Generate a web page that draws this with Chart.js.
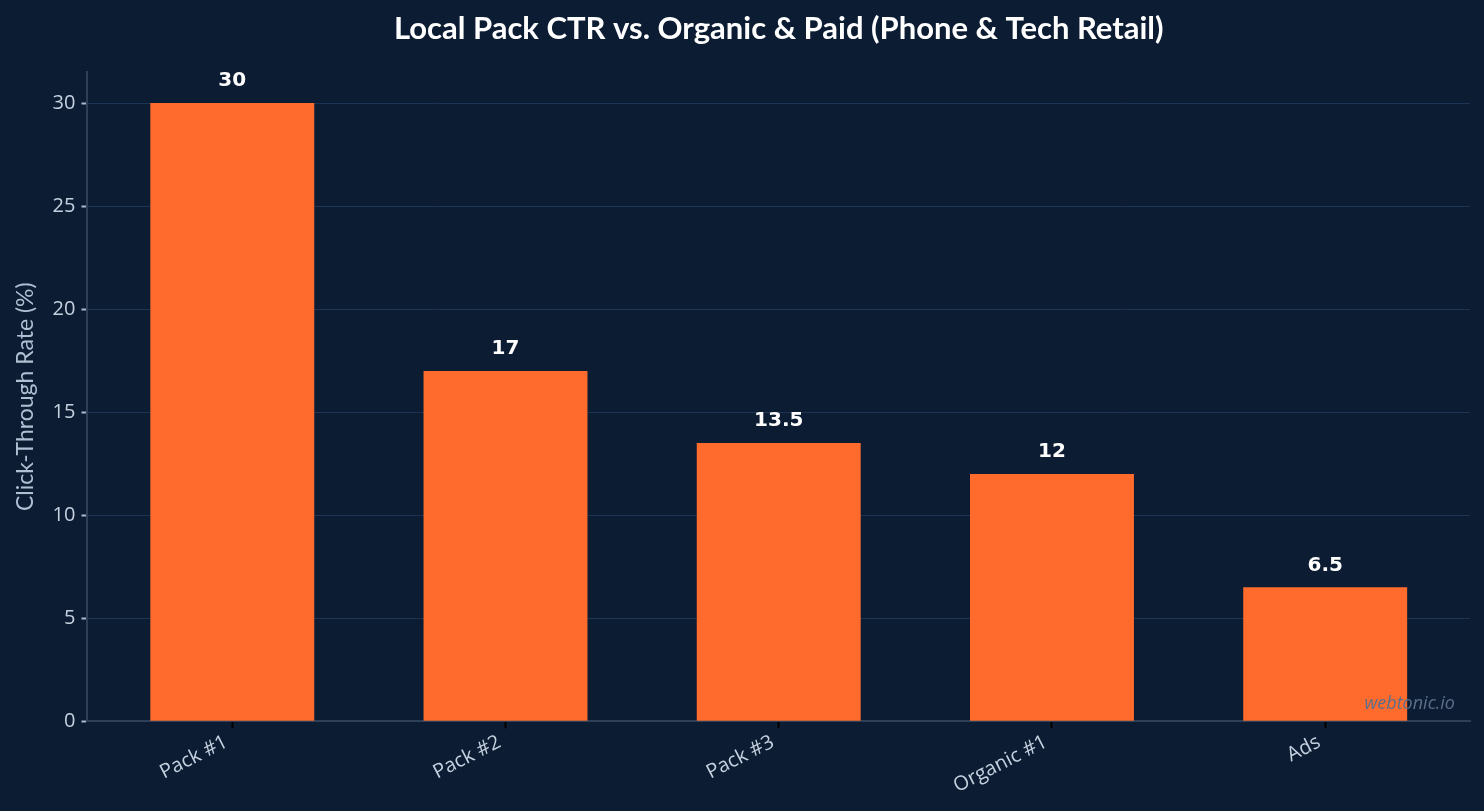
<!DOCTYPE html>
<html>
<head>
<meta charset="utf-8">
<script src="https://cdn.jsdelivr.net/npm/chart.js@4/dist/chart.umd.min.js"></script>
<style>
  html, body { margin: 0; padding: 0; background: #0c1c33; }
  #wrap { width: 1484px; height: 811px; position: relative; }
</style>
</head>
<body>
<div id="wrap"><canvas id="ctrChart"></canvas></div>
<script>
// data
const categories = ['Pack #1', 'Pack #2', 'Pack #3', 'Organic #1', 'Ads'];
const ctrValues = [30, 17, 13.5, 12, 6.5];
const yTicks = [0, 5, 10, 15, 20, 25, 30];

// value labels above each bar
const valueLabels = {
  id: 'valueLabels',
  afterDatasetsDraw(chart) {
    const ctx = chart.ctx;
    const meta = chart.getDatasetMeta(0);
    ctx.save();
    ctx.font = 'bold 20px "DejaVu Sans"';
    ctx.fillStyle = '#ffffff';
    ctx.textAlign = 'center';
    ctx.textBaseline = 'bottom';
    meta.data.forEach(function(bar, i) {
      ctx.fillText(String(ctrValues[i]), bar.x, bar.y - 12);
    });
    ctx.restore();
  }
};

// small watermark in the bottom-right corner of the plot
const watermark = {
  id: 'watermark',
  afterDraw(chart) {
    const ctx = chart.ctx;
    const area = chart.chartArea;
    ctx.save();
    ctx.font = 'italic 18px "Open Sans"';
    ctx.fillStyle = '#5b6f8a';
    ctx.textAlign = 'right';
    ctx.textBaseline = 'middle';
    ctx.fillText('webtonic.io', area.right - 15, area.bottom - 17);
    ctx.restore();
  }
};

let points = [];
for (let i = 0; i < categories.length; i++) {
  points.push({ x: i, y: ctrValues[i] });
}

new Chart(document.getElementById('ctrChart'), {
  type: 'bar',
  data: {
    datasets: [{
      label: 'CTR',
      data: points,
      backgroundColor: '#ff6b2d',
      borderWidth: 0,
      barPercentage: 0.6,
      categoryPercentage: 1.0
    }]
  },
  options: {
    responsive: true,
    maintainAspectRatio: false,
    animation: false,
    layout: { padding: { top: 6, right: 14, left: 8, bottom: 11 } },
    plugins: {
      legend: { display: false },
      tooltip: { enabled: false },
      title: {
        display: true,
        fullSize: false,
        text: 'Local Pack CTR vs. Organic & Paid (Phone & Tech Retail)',
        color: '#ffffff',
        font: { family: 'Lato', size: 31, weight: 'bold' },
        padding: { top: 4, bottom: 25 }
      }
    },
    scales: {
      x: {
        type: 'linear',
        min: -0.53,
        max: 4.53,
        offset: false,
        afterBuildTicks: function(axis) {
          axis.ticks = categories.map(function(c, i) { return { value: i }; });
        },
        ticks: {
          color: '#c5d1df',
          font: { family: 'Open Sans', size: 20 },
          minRotation: 27,
          maxRotation: 27,
          padding: 2,
          labelOffset: -6,
          callback: function(v) { return categories[v]; }
        },
        grid: {
          offset: false,
          drawOnChartArea: false,
          color: '#000000',
          tickLength: 7,
          tickWidth: 2
        },
        border: { color: '#2e4058', width: 2 }
      },
      y: {
        min: 0,
        max: 31.5,
        afterBuildTicks: function(axis) {
          axis.ticks = yTicks.map(function(v) { return { value: v }; });
        },
        ticks: {
          color: '#c5d1df',
          font: { family: 'Open Sans', size: 20 },
          padding: 6
        },
        grid: {
          color: '#1d3452',
          lineWidth: 1,
          tickColor: '#a9b8cc',
          tickLength: 6,
          tickWidth: 2
        },
        border: { color: '#2e4058', width: 2 },
        title: {
          display: true,
          text: 'Click-Through Rate (%)',
          color: '#b0bfd2',
          font: { family: 'Lato', size: 23 },
          padding: { bottom: 7 }
        }
      }
    }
  },
  plugins: [valueLabels, watermark]
});
</script>
</body>
</html>
